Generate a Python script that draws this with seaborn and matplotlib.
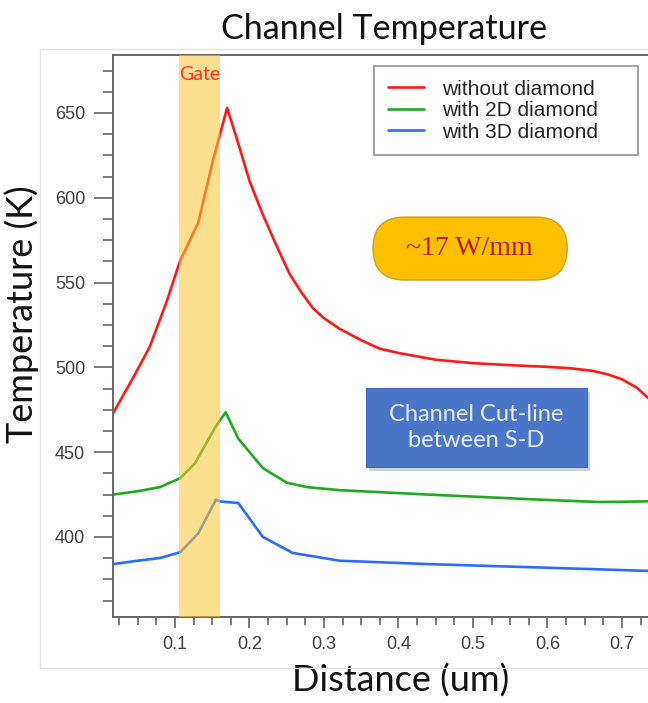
import pandas as pd
import matplotlib.pyplot as plt
import seaborn as sns
from matplotlib.patches import FancyBboxPatch, Rectangle
from matplotlib.ticker import MultipleLocator

# Channel temperature along the S-D cut-line
dist_red = [0.017, 0.044, 0.066, 0.089, 0.107, 0.131, 0.151, 0.170, 0.185, 0.200,
            0.218, 0.236, 0.254, 0.27, 0.285, 0.30, 0.32, 0.35, 0.375, 0.40,
            0.45, 0.50, 0.55, 0.60, 0.63, 0.66, 0.68, 0.70, 0.72, 0.735]
temp_red = [473, 494, 512, 539, 563, 585, 622, 653, 632, 610,
            590, 572, 555, 544, 535, 529, 523, 516, 511, 508.5,
            504.5, 502.5, 501.3, 500.3, 499.5, 498, 496, 493, 488, 482]

dist_green = [0.017, 0.05, 0.080, 0.107, 0.127, 0.154, 0.168, 0.185, 0.218, 0.250,
              0.277, 0.321, 0.44, 0.59, 0.67, 0.735]
temp_green = [425, 427, 429.4, 434.7, 443.5, 464.7, 473.5, 458, 440.6, 432,
              429.4, 427.6, 425, 422, 420.6, 421]

dist_blue = [0.017, 0.05, 0.080, 0.107, 0.131, 0.155, 0.160, 0.185, 0.218, 0.258,
             0.321, 0.44, 0.59, 0.735]
temp_blue = [384, 386, 387.6, 391, 402, 422, 421, 420, 400, 390.6,
             386, 384, 382, 380]

series_names = ["without diamond", "with 2D diamond", "with 3D diamond"]
colors = ["#ff1a1a", "#22a822", "#2a6cff"]
gate_start, gate_end = 0.105, 0.161

frames = []
for name, d, t in zip(series_names, [dist_red, dist_green, dist_blue],
                      [temp_red, temp_green, temp_blue]):
    frames.append(pd.DataFrame({"Distance": d, "Temperature": t, "Case": name}))
df = pd.concat(frames, ignore_index=True)

sns.set_style("ticks")
plt.rcParams["font.family"] = ["Liberation Sans", "DejaVu Sans"]

fig = plt.figure(figsize=(6.48, 7.03), dpi=100)
# faint outer frame of the original slide
fig.add_artist(Rectangle((0.0617, 0.0498), 0.95, 0.8805, transform=fig.transFigure,
                         fill=False, edgecolor="#e4e4e4", lw=1))
ax = fig.add_axes([0.1744, 0.1223, 0.8256, 0.7995])

sns.lineplot(data=df, x="Distance", y="Temperature", hue="Case",
             palette=dict(zip(series_names, colors)), sort=False, estimator=None,
             lw=1.9, ax=ax)

ax.axvspan(gate_start, gate_end, color="#fbc733", alpha=0.55, lw=0, zorder=3)
ax.text((gate_start + gate_end) / 2, 0.966, "Gate", transform=ax.get_xaxis_transform(),
        ha="center", va="center", color="#ff3030", fontsize=14, family="Lato", zorder=4)

ax.set_xlim(0.0168, 0.735)
ax.set_ylim(352.8, 684.2)
ax.xaxis.set_major_locator(MultipleLocator(0.1))
ax.xaxis.set_minor_locator(MultipleLocator(0.025))
ax.yaxis.set_major_locator(MultipleLocator(50))
ax.yaxis.set_minor_locator(MultipleLocator(12.5))
ax.tick_params(axis="y", which="major", length=14, width=1.1, color="#555555",
               labelsize=13, labelcolor="#404040", pad=6)
ax.tick_params(axis="y", which="minor", length=7, width=1.1, color="#555555")
ax.tick_params(axis="x", which="major", length=8, width=1.1, color="#555555",
               labelsize=13, labelcolor="#404040", pad=6)
ax.tick_params(axis="x", which="minor", length=5.5, width=1.1, color="#555555")
ax.set_xticks([0.1, 0.2, 0.3, 0.4, 0.5, 0.6, 0.7])
ax.set_xticklabels(["0.1", "0.2", "0.3", "0.4", "0.5", "0.6", "0.7"])
ax.set_yticks([400, 450, 500, 550, 600, 650])
for side in ["left", "bottom", "top"]:
    ax.spines[side].set_color("#666666")
    ax.spines[side].set_linewidth(1.4)
ax.spines["right"].set_visible(False)

ax.set_xlabel("Distance (um)", fontsize=26, family="Lato", color="#111111")
ax.set_ylabel("Temperature (K)", fontsize=26, family="Lato", color="#111111")
ax.xaxis.set_label_coords(0.538, -0.083)
ax.yaxis.set_label_coords(-0.138, 0.539)
fig.suptitle("Channel Temperature", x=0.593, y=0.982, va="top", fontsize=24.6,
             family="Lato", color="#111111")

handles, labels = ax.get_legend_handles_labels()
ax.legend(handles, labels, loc="upper left", bbox_to_anchor=(0.488, 0.98, 0.493, 0.0),
          mode="expand", fontsize=15, frameon=True, fancybox=False, edgecolor="#808080",
          borderpad=0.65, labelspacing=0.12, handlelength=1.75, handletextpad=0.87,
          borderaxespad=0)
ax.get_legend().get_frame().set_linewidth(1.3)

# power density pill
pill_aspect = 535 / 562
ax.add_patch(FancyBboxPatch((0.486, 0.5996), 0.363, 0.112, transform=ax.transAxes,
                            boxstyle="round,pad=0,rounding_size=0.0589",
                            mutation_aspect=pill_aspect, facecolor="#ffc000",
                            edgecolor="#c9a227", lw=1, zorder=5))
ax.text(0.667, 0.6557, "~17 W/mm", transform=ax.transAxes, ha="center", va="center",
        fontsize=20, family="Liberation Serif", color="#b81c00", zorder=6)

# cut-line label box with a soft shadow
ax.add_patch(Rectangle((0.478, 0.259), 0.413, 0.1405, transform=ax.transAxes,
                       facecolor="#9a9a9a", alpha=0.45, lw=0, zorder=5))
ax.add_patch(Rectangle((0.473, 0.267), 0.413, 0.1405, transform=ax.transAxes,
                       facecolor="#4a76c8", edgecolor="#3f67b3", lw=0.8, zorder=6))
ax.text(0.6795, 0.337, "Channel Cut-line\nbetween S-D", transform=ax.transAxes,
        ha="center", va="center", fontsize=17, family="Lato", color="#e8eef8",
        linespacing=1.3, zorder=7)

fig.savefig("out.png", dpi=100)
